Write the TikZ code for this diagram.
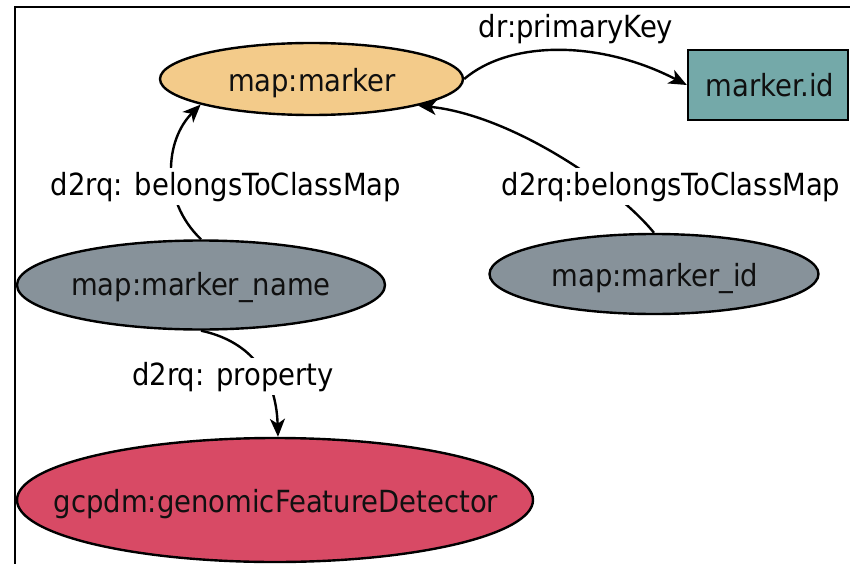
\documentclass[tikz,border=0pt]{standalone}
\usepackage{fontspec}
\setmainfont{DejaVu Sans Condensed}
\usetikzlibrary{shapes.geometric,arrows.meta}

\definecolor{classfill}{HTML}{F3CB8A}
\definecolor{keyfill}{HTML}{74A9A9}
\definecolor{mapfill}{HTML}{87929A}
\definecolor{termfill}{HTML}{D84A65}
\definecolor{inktext}{HTML}{101010}

\tikzset{
  oval/.style={ellipse, draw=black, line width=2.4pt, inner sep=0pt},
  keybox/.style={rectangle, draw=black, line width=2.4pt, inner sep=0pt, fill=keyfill},
  nodetext/.style={font=\fontsize{30.5}{36}\selectfont, text=inktext, inner sep=0pt, anchor=base},
  edgelabel/.style={font=\fontsize{30.5}{36}\selectfont, text=black, fill=white, inner xsep=2pt, inner ysep=4pt, anchor=base},
  link/.style={draw=black, line width=2.4pt, -{Stealth[length=18pt, width=15pt, inset=5pt]}},
  plain/.style={draw=black, line width=2.2pt}
}

\begin{document}
\begin{tikzpicture}[x=1pt, y=-1pt]
  \useasboundingbox (0,0) rectangle (850,564);

  % frame
  \coordinate (frameTop) at (850,7);
  \coordinate (frameCorner) at (15,7);
  \coordinate (frameBottom) at (15,564);
  \draw[plain] (frameTop) -- (frameCorner) -- (frameBottom);

  % class and property maps
  \node[oval, fill=classfill, minimum width=303pt, minimum height=72pt] (m) at (311.5,79) {};
  \node[keybox, minimum width=160pt, minimum height=70pt] (mk) at (768,85) {};
  \node[oval, fill=mapfill, minimum width=368pt, minimum height=89pt] (mn) at (201,285) {};
  \node[oval, fill=mapfill, minimum width=329pt, minimum height=80pt] (mi) at (654,274) {};
  \node[oval, fill=termfill, minimum width=516pt, minimum height=124pt] (g) at (275,500) {};

  \node[nodetext] (m-t) at (312,92) {map:marker};
  \node[nodetext] (mk-t) at (770,97) {marker.id};
  \node[nodetext] (mn-t) at (201,295) {map:marker\_name};
  \node[nodetext] (mi-t) at (655,286) {map:marker\_id};
  \node[nodetext] (g-t) at (276,512) {gcpdm:genomicFeatureDetector};

  % connectors
  \draw[link] (m.east) .. controls (510,40) and (600,40) .. (mk.west);
  \draw[link] (mn.north) .. controls (160,200) and (165,140) .. (m.193);
  \draw[link] (mi.north) .. controls (615,185) and (510,115) .. (m.346);
  \draw[link] (mn.south) .. controls (245,340) and (276,370) .. ([xshift=3pt]g.north);

  % connector labels
  \node[edgelabel, fill=none] (l-pk) at (576,38) {dr:primaryKey};
  \node[edgelabel] (l-bn) at (226,195) {d2rq: belongsToClassMap};
  \node[edgelabel] (l-bi) at (671,195) {d2rq:belongsToClassMap};
  \node[edgelabel] (l-pr) at (233,385) {d2rq: property};
\end{tikzpicture}
\end{document}
